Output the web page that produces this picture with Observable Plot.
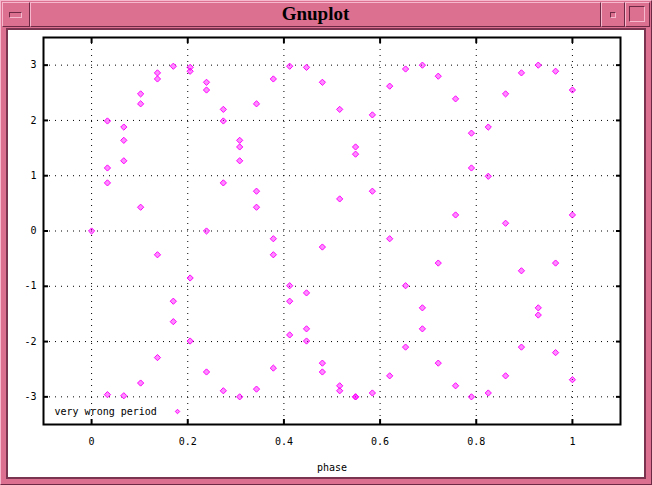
<!DOCTYPE html>
<html>
<head>
<meta charset="utf-8">
<script src="https://cdn.jsdelivr.net/npm/d3@7"></script>
<script src="https://cdn.jsdelivr.net/npm/@observablehq/plot@0.6"></script>
<style>
  html, body { margin: 0; padding: 0; background: #ffffff; }
  #win { position: relative; width: 652px; height: 485px; background: #dc7090; overflow: hidden; }
  .abs { position: absolute; box-sizing: border-box; }
  .bev { border: 1px solid; border-color: #f6b8cc #6e2a44 #6e2a44 #f6b8cc; }
  .sunk { border: 1px solid; border-color: #6e2a44 #f6b8cc #f6b8cc #6e2a44; }
  #title { position: absolute; left: 30px; width: 571px; top: 3px; text-align: center;
           font: bold 19px "Liberation Serif", "DejaVu Serif", serif; color: #000; line-height: 22px; }
  #chart { position: absolute; left: 0; top: 0; }
</style>
</head>
<body>
<div id="win">
  <div class="abs bev" style="left:0;top:0;width:652px;height:485px;"></div>
  <div class="abs bev" style="left:2px;top:2px;width:28px;height:25px;"></div>
  <div class="abs sunk" style="left:9px;top:12px;width:13px;height:6px;"></div>
  <div class="abs bev" style="left:30px;top:2px;width:571px;height:25px;"></div>
  <div id="title">Gnuplot</div>
  <div class="abs bev" style="left:601px;top:2px;width:24px;height:25px;"></div>
  <div class="abs sunk" style="left:610px;top:12px;width:6px;height:6px;"></div>
  <div class="abs bev" style="left:625px;top:2px;width:25px;height:25px;"></div>
  <div class="abs sunk" style="left:629px;top:6px;width:16px;height:16px;"></div>
  <div class="abs" style="left:6px;top:28px;width:640px;height:451px;background:#7a3450;"></div>
  <div class="abs" style="left:8px;top:30px;width:636px;height:447px;background:#ffffff;"></div>
  <div id="chart"></div>
</div>
<script>
// Data (phase, value)
const phase = [
  0.000,
  0.033, 0.033, 0.033, 0.033,
  0.067, 0.067, 0.067, 0.067,
  0.102, 0.102, 0.102, 0.102,
  0.137, 0.137, 0.137, 0.137,
  0.170, 0.170, 0.170,
  0.205, 0.205, 0.205, 0.205,
  0.239, 0.239, 0.239, 0.239,
  0.274, 0.274, 0.274, 0.274,
  0.308, 0.308, 0.308, 0.308,
  0.343, 0.343, 0.343, 0.343,
  0.378, 0.378, 0.378, 0.378,
  0.412, 0.412, 0.412, 0.412,
  0.447, 0.447, 0.447, 0.447,
  0.480, 0.480, 0.480, 0.480,
  0.516, 0.516, 0.516, 0.516,
  0.549, 0.549, 0.549, 0.549,
  0.584, 0.584, 0.584,
  0.620, 0.620, 0.620,
  0.653, 0.653, 0.653,
  0.688, 0.688, 0.688,
  0.721, 0.721, 0.721,
  0.757, 0.757, 0.757,
  0.790, 0.790, 0.790,
  0.825, 0.825, 0.825,
  0.861, 0.861, 0.861,
  0.894, 0.894, 0.894,
  0.929, 0.929, 0.929,
  0.965, 0.965, 0.965,
  1.000, 1.000, 1.000
];
const value = [
  0.00,
  1.99, 1.14, 0.87, -2.96,
  1.88, 1.64, 1.27, -2.98,
  2.48, 2.30, 0.43, -2.75,
  2.86, 2.75, -0.43, -2.29,
  2.98, -1.27, -1.64,
  2.96, 2.89, -0.85, -1.99,
  2.69, 2.55, 0.00, -2.55,
  2.20, 1.99, 0.87, -2.89,
  1.64, 1.52, 1.27, -3.00,
  2.30, 0.72, 0.43, -2.86,
  2.75, -0.14, -0.43, -2.48,
  2.98, -0.99, -1.27, -1.88,
  2.96, -1.12, -1.77, -1.99,
  2.69, -0.29, -2.39, -2.55,
  2.20, 0.58, -2.80, -2.89,
  1.52, 1.39, -3.00, -3.00,
  2.10, 0.72, -2.93,
  2.62, -0.14, -2.62,
  2.93, -0.99, -2.10,
  3.00, -1.39, -1.77,
  2.80, -0.58, -2.39,
  2.39, 0.29, -2.80,
  1.77, 1.14, -3.00,
  1.88, 0.99, -2.93,
  2.48, 0.14, -2.62,
  2.86, -0.72, -2.10,
  3.00, -1.39, -1.52,
  2.89, -0.58, -2.20,
  2.55, 0.29, -2.69
];
const xTicks = [0, 0.2, 0.4, 0.6, 0.8, 1];
const xTickLabels = ["0", "0.2", "0.4", "0.6", "0.8", "1"];
const yTicks = [-3, -2, -1, 0, 1, 2, 3];
const yTickLabels = ["-3", "-2", "-1", "0", "1", "2", "3"];
const seriesName = "very wrong period";
const xLabel = "phase";

const points = phase.map((p, i) => ({phase: p, value: value[i]}));
const color = "#ff00ff";

const chart = Plot.plot({
  width: 652,
  height: 485,
  marginLeft: 43,
  marginRight: 32,
  marginTop: 37,
  marginBottom: 61,
  style: {background: "transparent", fontFamily: "'DejaVu Sans Mono', monospace", fontSize: "10px", color: "black"},
  x: {domain: [-0.1, 1.1]},
  y: {domain: [-3.5, 3.5]},
  marks: [
    Plot.gridX(xTicks, {stroke: "black", strokeOpacity: 1, strokeDasharray: "1,5"}),
    Plot.gridY(yTicks, {stroke: "black", strokeOpacity: 1, strokeDasharray: "1,5"}),
    Plot.axisX(xTicks, {anchor: "bottom", tickSize: 0, tickPadding: 13, tickFormat: (d, i) => xTickLabels[i], label: xLabel, labelAnchor: "center", labelArrow: "none", labelOffset: 46}),
    Plot.axisX(xTicks, {anchor: "bottom", tickSize: -5, strokeWidth: 2, text: null, label: null}),
    Plot.axisX(xTicks, {anchor: "top", tickSize: -5, strokeWidth: 2, text: null, label: null}),
    Plot.axisY(yTicks, {anchor: "left", tickSize: 0, tickPadding: 7, tickFormat: (d, i) => yTickLabels[i], label: null}),
    Plot.axisY(yTicks, {anchor: "left", tickSize: -5, strokeWidth: 2, text: null, label: null}),
    Plot.axisY(yTicks, {anchor: "right", tickSize: -5, strokeWidth: 2, text: null, label: null}),
    Plot.frame({stroke: "black", strokeWidth: 2}),
    Plot.dot(points, {x: "phase", y: "value", symbol: "diamond2", r: 2.8, stroke: color, strokeWidth: 1, fill: color, fillOpacity: 0.45}),
    Plot.text([seriesName], {frameAnchor: "bottom-left", dx: 11, dy: -13, textAnchor: "start", lineAnchor: "middle", text: d => d, fill: "black"}),
    Plot.dot([seriesName], {frameAnchor: "bottom-left", dx: 134, dy: -13, symbol: "diamond2", r: 2, stroke: color, strokeWidth: 1, fill: color, fillOpacity: 0.45})
  ]
});
document.getElementById("chart").appendChild(chart);
</script>
</body>
</html>
